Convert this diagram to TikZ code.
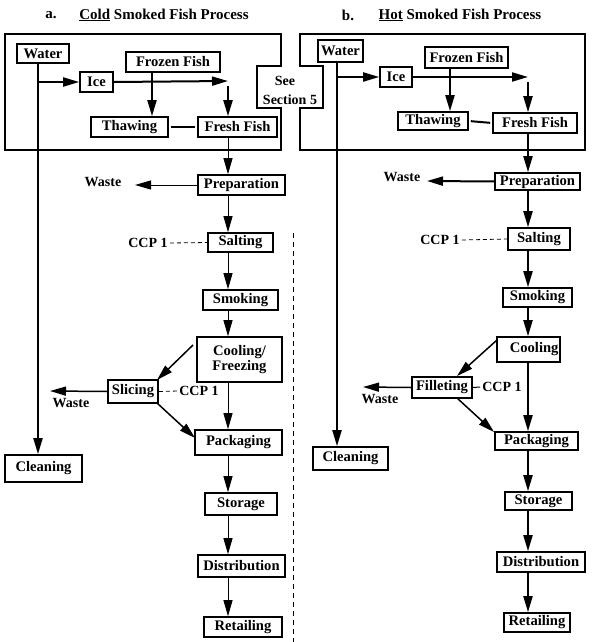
\documentclass[tikz,border=0pt]{standalone}
\usepackage{fontspec}
\setmainfont{Liberation Serif}
\usetikzlibrary{arrows.meta}
\begin{document}
\begin{tikzpicture}[x=1pt,y=-1pt,
  font=\fontsize{14}{14.5}\selectfont\bfseries,
  box/.style={draw, line width=1.6pt, inner sep=0pt, align=center, font=\fontsize{14.6}{15}\selectfont\bfseries},
  lbl/.style={inner sep=0pt},
  ttl/.style={inner sep=0pt, font=\fontsize{15}{16}\selectfont\bfseries},
  tip/.style={-{Triangle[length=16pt,width=9pt]}},
  thin/.style={line width=1pt},
  thick2/.style={line width=2pt},
  ccp/.style={line width=0.8pt, dash pattern=on 4pt off 3pt}]
\useasboundingbox (0,0) rectangle (599,642);

% titles
\node[ttl] (ta1) at (51,15) {a.};
\node[ttl] (ta2) at (164,15) {\underline{Cold} Smoked Fish Process};
\node[ttl] (tb1) at (348,15) {b.};
\node[ttl] (tb2) at (460,15) {\underline{Hot} Smoked Fish Process};

% outer frames
\draw[line width=1.6pt] (5,34) -- (281,34) -- (281,66) -- (257,66) -- (257,108) -- (281,108) -- (281,150) -- (5,150) -- cycle;
\draw[line width=1.6pt] (300,34) -- (585,34) -- (585,150) -- (300,150) -- (300,108) -- (323,108) -- (323,66) -- (300,66) -- cycle;
\node[lbl] (see1) at (285,81) {See};
\node[lbl] (see2) at (290,100) {Section 5};

% separator
\coordinate (sep1) at (293,233);
\coordinate (sep2) at (293,642);
\draw[line width=0.8pt, dash pattern=on 5pt off 4pt] (sep1) -- (sep2);

% ================= panel a =================
\node[box, minimum width=52pt, minimum height=19pt] (wa) at (43,53.5) {Water};
\node[box, minimum width=33pt, minimum height=20pt] (ia) at (96.5,82) {Ice};
\node[box, minimum width=94pt, minimum height=20pt] (ffa) at (173,62) {Frozen Fish};
\node[box, minimum width=77pt, minimum height=20pt] (tha) at (129.5,127) {Thawing};
\node[box, minimum width=79pt, minimum height=20pt] (fra) at (237.5,127) {Fresh Fish};
\node[box, minimum width=87pt, minimum height=20pt] (pa) at (241.5,185) {Preparation};
\node[box, minimum width=65pt, minimum height=19pt] (sa) at (240.5,242.5) {Salting};
\node[box, minimum width=75pt, minimum height=20pt] (sma) at (240.5,300) {Smoking};
\node[box, minimum width=85pt, minimum height=45pt] (ca) at (239.5,359.5) {Cooling/\\Freezing};
\node[box, minimum width=50pt, minimum height=23pt] (sla) at (133,391.5) {Slicing};
\node[box, minimum width=87pt, minimum height=25pt] (pka) at (238.5,442.5) {Packaging};
\node[box, minimum width=77pt, minimum height=27pt] (cla) at (43.5,468.5) {Cleaning};
\node[box, minimum width=72pt, minimum height=22pt] (sta) at (241,504) {Storage};
\node[box, minimum width=87pt, minimum height=22pt] (da) at (241.5,566) {Distribution};
\node[box, minimum width=78pt, minimum height=20pt] (ra) at (243,627) {Retailing};

\node[lbl] (wsa1) at (103,182) {Waste};
\node[lbl] (ccpa1) at (148,243) {CCP 1};
\node[lbl] (wsa2) at (71,403) {Waste};
\node[lbl] (ccpa2) at (199,391) {CCP 1};

\coordinate (xa) at (228,0);
\coordinate (wla) at (38,0);
\coordinate (ffxa) at (152,0);
\coordinate (iceenda) at (228,81);
\coordinate (frtopa) at (228,86);
\coordinate (wsta1) at (135,185);
\coordinate (wsta2) at (50,391);
\coordinate (diaga1) at (193,345);
\coordinate (diaga2) at (157,380);
\coordinate (diaga3) at (157,403);
\coordinate (diaga4) at (195,438);

% upper (thick)
\draw[thick2, tip] (wa.south -| wla) -- (cla.north -| wla);
\draw[thick2, tip] (ia.west -| wla) -- (ia.west);
\draw[thick2, tip] (ia.east) -- (iceenda);
\draw[thick2, tip] (ffa.south -| ffxa) -- (tha.north -| ffxa);
\draw[thick2, tip] (frtopa) -- (fra.north -| frtopa);
\draw[thick2, shorten <=2pt, shorten >=2pt] (tha.east) -- (fra.west);

% lower chain (thin)
\draw[thin, tip] (fra.south -| xa) -- (pa.north -| xa);
\draw[thin, tip] (pa.south -| xa) -- (sa.north -| xa);
\draw[thin, tip] (sa.south -| xa) -- (sma.north -| xa);
\draw[thin, tip] (sma.south -| xa) -- (ca.north -| xa);
\draw[thin, tip] (ca.south -| xa) -- (pka.north -| xa);
\draw[thin, tip] (pka.south -| xa) -- (sta.north -| xa);
\draw[thin, tip] (sta.south -| xa) -- (da.north -| xa);
\draw[thin, tip] (da.south -| xa) -- (ra.north -| xa);
\draw[thin, tip] (pa.west) -- (wsta1);
\draw[ccp] (ccpa1.east) ++(2,0) -- (sa.west);
\draw[line width=1.5pt, tip] (diaga1) -- (diaga2);
\draw[line width=1.5pt, tip] (diaga3) -- (diaga4);
\draw[line width=1.5pt, tip] (sla.west) -- (wsta2);
\draw[ccp] (sla.east) -- ([xshift=-1pt]ccpa2.west);

% ================= panel b =================
\node[box, minimum width=45pt, minimum height=22pt] (wb) at (340.5,51) {Water};
\node[box, minimum width=32pt, minimum height=20pt] (ib) at (396,77) {Ice};
\node[box, minimum width=83pt, minimum height=21pt] (ffb) at (466.5,57.5) {Frozen Fish};
\node[box, minimum width=70pt, minimum height=18pt] (thb) at (433,121) {Thawing};
\node[box, minimum width=84pt, minimum height=20pt] (frb) at (535,123) {Fresh Fish};
\node[box, minimum width=85pt, minimum height=17pt] (pb) at (537.5,181.5) {Preparation};
\node[box, minimum width=62pt, minimum height=22pt] (sb) at (539,239) {Salting};
\node[box, minimum width=69pt, minimum height=19pt] (smb) at (537.5,297.5) {Smoking};
\node[box, minimum width=63pt, minimum height=25pt, text width=60pt, align=right] (cb) at (528.5,349.5) {Cooling};
\node[box, minimum width=60pt, minimum height=21pt] (flb) at (442,387.5) {Filleting};
\node[box, minimum width=83pt, minimum height=18pt] (pkb) at (536.5,441) {Packaging};
\node[box, minimum width=75pt, minimum height=23pt] (clb) at (350.5,458.5) {Cleaning};
\node[box, minimum width=67pt, minimum height=18pt] (stb) at (538.5,501) {Storage};
\node[box, minimum width=88pt, minimum height=20pt] (db) at (541,562) {Distribution};
\node[box, minimum width=66pt, minimum height=19pt] (rb) at (537,622.5) {Retailing};

\node[lbl] (wsb1) at (402,177) {Waste};
\node[lbl] (ccpb1) at (440,240) {CCP 1};
\node[lbl] (wsb2) at (380,399) {Waste};
\node[lbl] (ccpb2) at (502,387) {CCP 1};

\coordinate (xb) at (528,0);
\coordinate (wlb) at (337,0);
\coordinate (ffxb) at (450,0);
\coordinate (iceendb) at (528,77);
\coordinate (frtopb) at (528,82);
\coordinate (wstb1) at (427,181);
\coordinate (wstb2) at (363,387);
\coordinate (diagb1) at (497,340);
\coordinate (diagb2) at (457,376);
\coordinate (diagb3) at (457,398);
\coordinate (diagb4) at (494,432);

\draw[thick2, tip] (wb.south -| wlb) -- (clb.north -| wlb);
\draw[thick2, tip] (ib.west -| wlb) -- (ib.west);
\draw[thick2, tip] (ib.east) -- (iceendb);
\draw[thick2, tip] (ffb.south -| ffxb) -- (thb.north -| ffxb);
\draw[thick2, tip] (frtopb) -- (frb.north -| frtopb);
\draw[thick2, shorten <=2pt, shorten >=2pt] (thb.east) -- (frb.west);

\draw[thick2, tip] (frb.south -| xb) -- (pb.north -| xb);
\draw[thick2, tip] (pb.south -| xb) -- (sb.north -| xb);
\draw[thick2, tip] (sb.south -| xb) -- (smb.north -| xb);
\draw[thick2, tip] (smb.south -| xb) -- (cb.north -| xb);
\draw[thick2, tip] (cb.south -| xb) -- (pkb.north -| xb);
\draw[thick2, tip] (pkb.south -| xb) -- (stb.north -| xb);
\draw[thick2, tip] (stb.south -| xb) -- (db.north -| xb);
\draw[thick2, tip] (db.south -| xb) -- (rb.north -| xb);
\draw[thick2, tip] (pb.west) -- (wstb1);
\draw[ccp] (ccpb1.east) ++(2,0) -- (sb.west);
\draw[line width=1.5pt, tip] (diagb1) -- (diagb2);
\draw[line width=1.5pt, tip] (diagb3) -- (diagb4);
\draw[line width=1.5pt, tip] (flb.west) -- (wstb2);
\draw[line width=1pt] (flb.east) -- ([xshift=-2pt]ccpb2.west);
\end{tikzpicture}
\end{document}
